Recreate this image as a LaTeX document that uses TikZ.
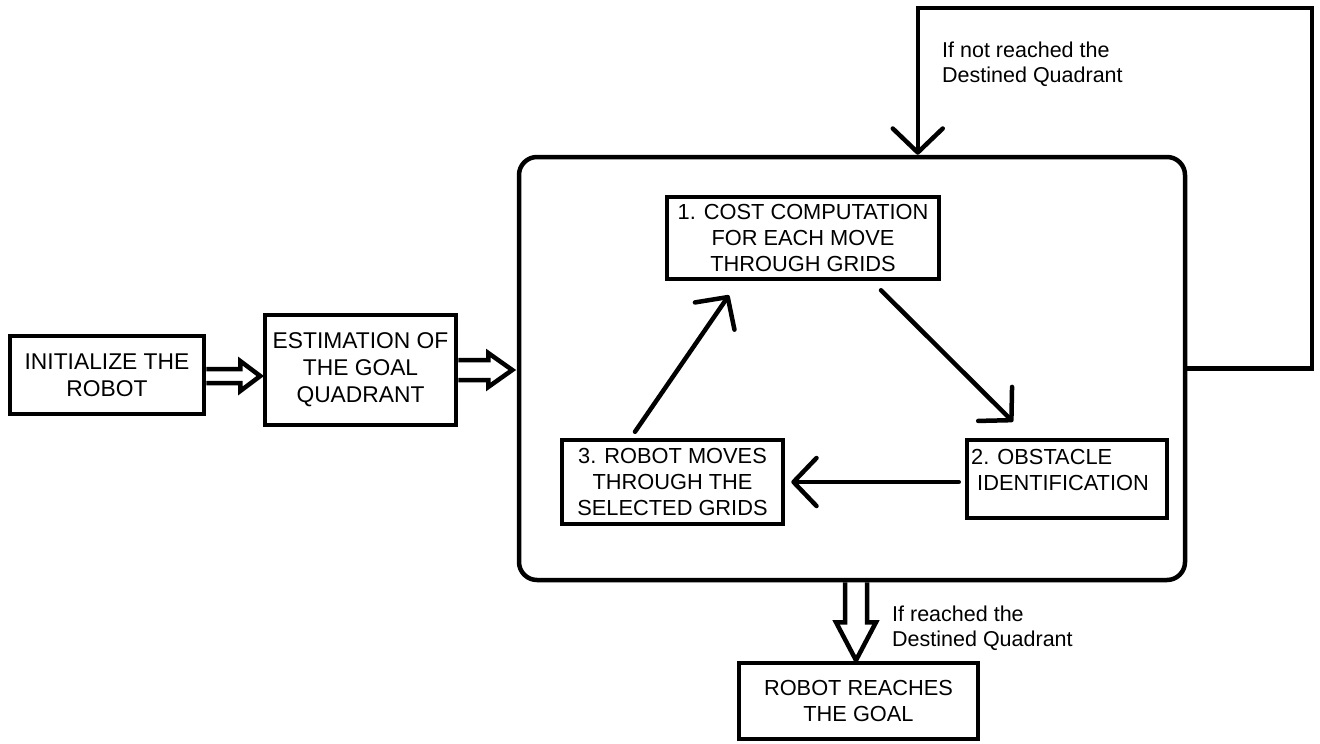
\documentclass[tikz,border=0pt]{standalone}
\usepackage{fontspec}
\setmainfont{Liberation Sans}
\usetikzlibrary{arrows.meta,calc}
\begin{document}
\begin{tikzpicture}[x=1pt,y=-1pt,
  txt/.style={font=\fontsize{21.8}{26}\selectfont},
  box/.style={txt, draw, line width=4.5pt, align=center, inner sep=0pt},
  obox/.style={box, font=\fontsize{22.8}{27}\selectfont},
  bigbox/.style={draw, line width=4.5pt, rounded corners=18pt, inner sep=0pt},
  arr/.style={line width=4.5pt, line cap=round, -{Straight Barb[length=23pt,width=48pt,round]}},
  hol/.style={line width=4.5pt, line join=miter},
  lab/.style={font=\fontsize{21.5}{25}\selectfont, align=left, inner sep=0pt, anchor=north west}]
\useasboundingbox (0,0) rectangle (1320,744);
\fill[white] (0,0) rectangle (1320,744);

\node[obox, minimum width=194pt, minimum height=78pt] (init) at (107,375) {INITIALIZE THE\\ROBOT};
\node[obox, minimum width=191pt, minimum height=110pt] (est) at (360.5,370) {ESTIMATION OF\\THE GOAL\\QUADRANT};
\node[bigbox, minimum width=666pt, minimum height=423pt] (big) at (852,368.5) {};
\node[box, minimum width=272pt, minimum height=82pt] (c1) at (803,238) {1. COST COMPUTATION\\FOR EACH MOVE\\THROUGH GRIDS};
\node[box, minimum width=200pt, minimum height=78pt] (c2) at (1067,479)
  {\raisebox{0pt}[\height][\dimexpr\depth+14pt\relax]{\begin{tabular}{@{}l@{\hspace{14pt}}}2. OBSTACLE\\ \hspace*{6pt}IDENTIFICATION\end{tabular}}};
\node[box, minimum width=221pt, minimum height=84pt] (c3) at (672.5,482) {3. ROBOT MOVES\\THROUGH THE\\SELECTED GRIDS};
\node[box, minimum width=239pt, minimum height=76pt] (goal) at (858.5,701) {ROBOT REACHES\\THE GOAL};

% hollow arrows
\draw[hol] ($(init.east)+(0,-6)$) -- ++(34,0) -- ++(0,-8) -- ++(20,15) -- ++(-20,15) -- ++(0,-8) -- ++(-34,0);
\draw[hol] ($(est.east)+(0,-10)$) -- ++(30,0) -- ++(0,-7) -- ++(24,17) -- ++(-24,17) -- ++(0,-7) -- ++(-30,0);
\draw[hol] ($(big.south)+(-7,0)$) -- ++(0,40) -- ++(-9,0) -- ++(20,38) -- ++(20,-38) -- ++(-9,0) -- ++(0,-40);

% cycle arrows
\draw[arr] ($(c1.south)+(78,9)$) -- ($(c2.north)+(-54,-16)$);
\draw[arr] ($(c2.west)+(-6,3)$) -- ($(c3.east)+(6,0)$);
\draw[arr] ($(c3.north)+(-37.5,-6)$) -- ($(c1.south)+(-74,14)$);

% feedback loop
\coordinate (fbR) at (1312,8);
\coordinate (fbT) at ($(big.north west)+(401,0)$);
\draw[line width=4.5pt, -{Straight Barb[length=24pt,width=50pt,round]}] (big.east) -| (fbR) -| (fbT);

% labels
\node[lab] (l1) at (942,42) {If not reached the\\Destined Quadrant};
\node[lab] (l2) at (892,606) {If reached the\\Destined Quadrant};
\end{tikzpicture}
\end{document}
